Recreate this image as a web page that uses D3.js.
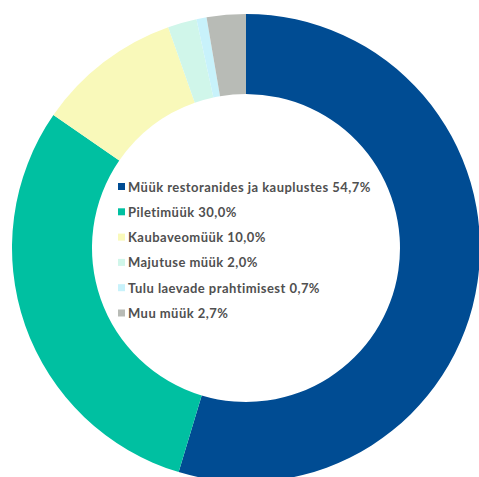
<!DOCTYPE html>
<html><head><meta charset="utf-8">
<script src="https://cdn.jsdelivr.net/npm/d3@7"></script>
<style>html,body{margin:0;padding:0;background:#fff;}</style>
</head><body>
<svg id="c" width="479" height="477"></svg>
<script>
const categories = ["Müük restoranides ja kauplustes", "Piletimüük", "Kaubaveomüük", "Majutuse müük", "Tulu laevade prahtimisest", "Muu müük"];
const values = [54.7, 30.0, 10.0, 2.0, 0.7, 2.7];
const labels = ["54,7%", "30,0%", "10,0%", "2,0%", "0,7%", "2,7%"];
const colors = ["#004c93", "#00c0a1", "#f9f9ba", "#d0f6ea", "#c8f2fb", "#b8bbb6"];

const svg = d3.select("#c");
const cx = 246, cy = 248, R = 234, r = 154;
const pie = d3.pie().sort(null).value(d => d)(values);
const arc = d3.arc().innerRadius(r).outerRadius(R);
const g = svg.append("g").attr("transform", `translate(${cx},${cy})`);
g.selectAll("path").data(pie).enter().append("path")
  .attr("d", arc).attr("fill", (d, i) => colors[i]);

const leg = svg.append("g").attr("transform", "translate(118,187)");
const items = leg.selectAll("g").data(categories).enter().append("g")
  .attr("transform", (d, i) => `translate(0,${i * 25.3})`);
items.append("rect").attr("x", 0).attr("y", -4).attr("width", 7).attr("height", 7)
  .attr("fill", (d, i) => colors[i]);
items.append("text").attr("x", 10).attr("y", 0).attr("dy", "0.35em")
  .attr("font-family", "Lato, sans-serif").attr("font-weight", "bold").attr("font-size", 13)
  .attr("letter-spacing", "0.45px")
  .attr("fill", "#505050")
  .text((d, i) => d + " " + labels[i]);
</script>
</body></html>
